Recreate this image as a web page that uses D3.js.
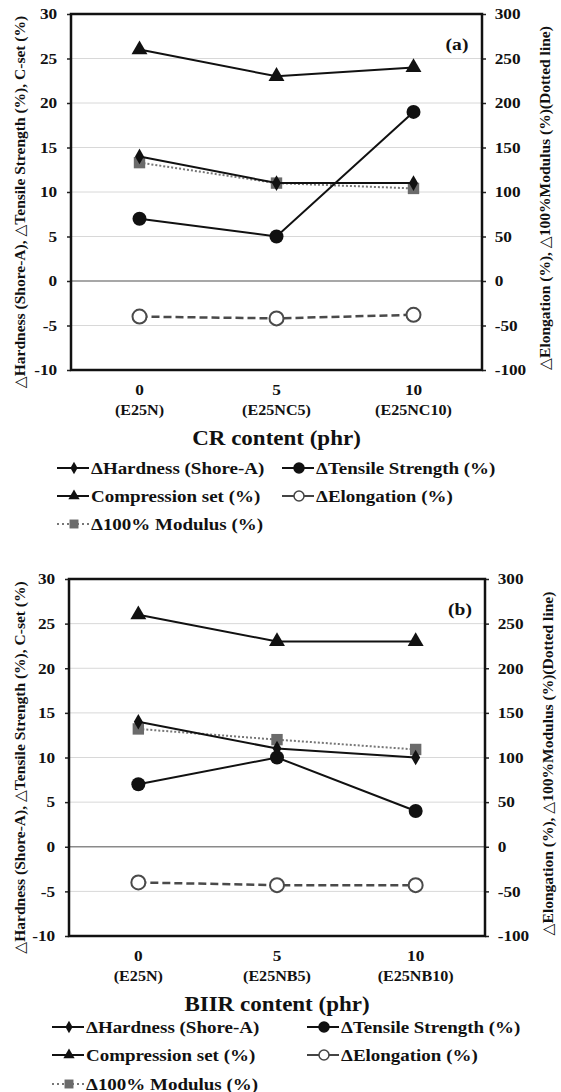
<!DOCTYPE html>
<html>
<head>
<meta charset="utf-8">
<script src="https://cdn.jsdelivr.net/npm/d3@7"></script>
<style>
  body { margin: 0; background: #fff; }
</style>
</head>
<body>
<div id="vis"></div>
<script>
// values
var contents = ["0", "5", "10"];
var compoundsA = ["(E25N)", "(E25NC5)", "(E25NC10)"];
var compoundsB = ["(E25N)", "(E25NB5)", "(E25NB10)"];

var hardnessA = [14, 11, 11];
var tensileA = [7, 5, 19];
var csetA = [26, 23, 24];
var elongA = [-40, -42, -38];
var modulusA = [133, 110, 104];

var hardnessB = [14, 11, 10];
var tensileB = [7, 10, 4];
var csetB = [26, 23, 23];
var elongB = [-40, -43, -43];
var modulusB = [132, 120, 109];

var leftTicks = [-10, -5, 0, 5, 10, 15, 20, 25, 30];
var rightTicks = [-100, -50, 0, 50, 100, 150, 200, 250, 300];

var legendNames = ["\u0394Hardness (Shore-A)", "\u0394Tensile Strength (%)", "Compression set (%)",
  "\u0394Elongation (%)", "\u0394100% Modulus (%)"];

var width = 561, height = 1092;
var serif = "'Liberation Serif', 'Times New Roman', 'DejaVu Serif', serif";
var stretch = 1.15; // the figure is a bit wider than tall, text looks stretched

var svg = d3.select("#vis").append("svg")
  .attr("width", width)
  .attr("height", height);

var diamond = d3.symbol().type(d3.symbolDiamond).size(70);
var triangle = d3.symbol().type(d3.symbolTriangle).size(110);
var square = d3.symbol().type(d3.symbolSquare).size(130);

// put a label at x,y, widened horizontally
function label(g, x, y, txt, size, anchor) {
  return g.append("text")
    .attr("transform", "translate(" + x + "," + y + ") scale(" + stretch + ",1)")
    .attr("text-anchor", anchor || "start")
    .style("font-size", size + "px")
    .text(txt);
}

function drawPanel(p) {
  var g = svg.append("g");
  var x = d3.scaleBand().domain(contents).range([p.left, p.right]);
  var yL = d3.scaleLinear().domain([-10, 30]).range([p.bottom, p.top]);
  var yR = d3.scaleLinear().domain([-100, 300]).range([p.bottom, p.top]);
  var cx = function(d, i) { return x(contents[i]) + x.bandwidth() / 2; };

  // grid
  g.selectAll(".grid").data(leftTicks.filter(function(t) { return t > -10 && t < 30; }))
    .enter().append("line")
    .attr("x1", p.left).attr("x2", p.right)
    .attr("y1", function(d) { return yL(d); }).attr("y2", function(d) { return yL(d); })
    .attr("stroke", function(d) { return d === 0 ? "#8a8a8a" : "#d8d8d8"; })
    .attr("stroke-width", function(d) { return d === 0 ? 1.5 : 1; });

  // axes
  var plain = function(d) { return String(d); };
  var left = g.append("g").attr("transform", "translate(" + p.left + ",0)")
    .call(d3.axisLeft(yL).tickValues(leftTicks).tickFormat(plain).tickSize(4).tickPadding(8));
  var right = g.append("g").attr("transform", "translate(" + p.right + ",0)")
    .call(d3.axisRight(yR).tickValues(rightTicks).tickFormat(plain).tickSize(4).tickPadding(7));
  [left, right].forEach(function(a) {
    a.select(".domain").remove();
    a.attr("font-family", null).attr("font-size", null);
    a.selectAll("line").attr("stroke", "#222").attr("stroke-width", 1.5);
    a.selectAll("text").style("font-size", "15px")
      .attr("transform", "scale(" + stretch + ",1)");
  });

  // frame
  g.append("rect")
    .attr("x", p.left).attr("y", p.top)
    .attr("width", p.right - p.left).attr("height", p.bottom - p.top)
    .attr("fill", "none").attr("stroke", "#111").attr("stroke-width", 2.5);

  // x labels
  contents.forEach(function(c, i) {
    label(g, cx(c, i), p.bottom + 25, c, 15, "middle");
    label(g, cx(c, i), p.bottom + 45, p.compounds[i], 14, "middle");
  });
  label(g, (p.left + p.right) / 2, p.bottom + 75, p.xTitle, 20, "middle");

  g.append("text")
    .attr("transform", "translate(" + 25 + "," + ((p.top + p.bottom) / 2 + 10) + ") rotate(-90)")
    .attr("text-anchor", "middle").style("font-size", "15.5px")
    .text("\u25b3Hardness (Shore-A), \u25b3Tensile Strength (%), C-set (%)");
  g.append("text")
    .attr("transform", "translate(" + p.rightTitleX + "," + ((p.top + p.bottom) / 2 + 6) + ") rotate(-90)")
    .attr("text-anchor", "middle").style("font-size", "15.5px")
    .text("\u25b3Elongation (%), \u25b3100%Modulus (%)(Dotted line)");

  label(g, p.right - 25, p.top + 36, p.tag, 17, "middle");

  function series(vals, y, opts) {
    var line = d3.line().x(cx).y(function(d) { return y(d); });
    g.append("path").datum(vals)
      .attr("d", line)
      .attr("fill", "none")
      .attr("stroke", opts.stroke)
      .attr("stroke-width", opts.width)
      .attr("stroke-dasharray", opts.dash || null);
    var m = g.selectAll(null).data(vals).enter();
    if (opts.symbol) {
      m.append("path")
        .attr("d", opts.symbol)
        .attr("transform", function(d, i) { return "translate(" + cx(d, i) + "," + y(d) + ")"; })
        .attr("fill", opts.fill);
    } else {
      m.append("circle")
        .attr("cx", cx).attr("cy", function(d) { return y(d); })
        .attr("r", 7)
        .attr("fill", opts.fill)
        .attr("stroke", opts.stroke)
        .attr("stroke-width", opts.circleStroke || 0);
    }
  }

  series(p.elong, yR, { stroke: "#4a4a4a", width: 2.5, dash: "8,4", fill: "#fff", circleStroke: 2 });
  series(p.modulus, yR, { stroke: "#777", width: 2, dash: "2,2", fill: "#6b6b6b", symbol: square });
  series(p.tensile, yL, { stroke: "#111", width: 2, fill: "#111" });
  series(p.hardness, yL, { stroke: "#111", width: 2, fill: "#111", symbol: diamond });
  series(p.cset, yL, { stroke: "#111", width: 2, fill: "#111", symbol: triangle });

  // legend
  var items = [
    { name: legendNames[0], col: 0, row: 0, stroke: "#111", symbol: d3.symbolDiamond, size: 45, fill: "#111" },
    { name: legendNames[1], col: 1, row: 0, stroke: "#111", circle: true, fill: "#111" },
    { name: legendNames[2], col: 0, row: 1, stroke: "#111", symbol: d3.symbolTriangle, size: 55, fill: "#111" },
    { name: legendNames[3], col: 1, row: 1, stroke: "#444", circle: true, fill: "#fff" },
    { name: legendNames[4], col: 0, row: 2, stroke: "#777", symbol: d3.symbolSquare, size: 80, fill: "#6b6b6b", dash: "2,3" }
  ];
  items.forEach(function(d) {
    var lx = p.legendX[d.col], ly = p.legendY[d.row];
    var lg = g.append("g").attr("transform", "translate(" + lx + "," + ly + ")");
    lg.append("line").attr("x1", 0).attr("x2", 32)
      .attr("stroke", d.stroke)
      .attr("stroke-width", 2)
      .attr("stroke-dasharray", d.dash || null);
    if (d.symbol) {
      lg.append("path")
        .attr("d", d3.symbol().type(d.symbol).size(d.size)())
        .attr("transform", "translate(17,0)")
        .attr("fill", d.fill);
    } else {
      lg.append("circle")
        .attr("cx", 17).attr("r", 5)
        .attr("fill", d.fill)
        .attr("stroke", d.stroke)
        .attr("stroke-width", 1.5);
    }
    label(g, lx + 34, ly + 5.5, d.name, 16.5, "start");
  });
}

drawPanel({
  left: 71, right: 482, top: 14, bottom: 370, rightTitleX: 550,
  compounds: compoundsA, xTitle: "CR content (phr)", tag: "(a)",
  hardness: hardnessA, tensile: tensileA, cset: csetA, elong: elongA, modulus: modulusA,
  legendX: [57, 282], legendY: [468, 496, 524]
});

drawPanel({
  left: 69, right: 485, top: 579, bottom: 936, rightTitleX: 553,
  compounds: compoundsB, xTitle: "BIIR content (phr)", tag: "(b)",
  hardness: hardnessB, tensile: tensileB, cset: csetB, elong: elongB, modulus: modulusB,
  legendX: [52, 307], legendY: [1027, 1055, 1084]
});

svg.selectAll("text")
  .style("font-family", serif)
  .style("font-weight", "bold")
  .attr("fill", "#111");
</script>
</body>
</html>
